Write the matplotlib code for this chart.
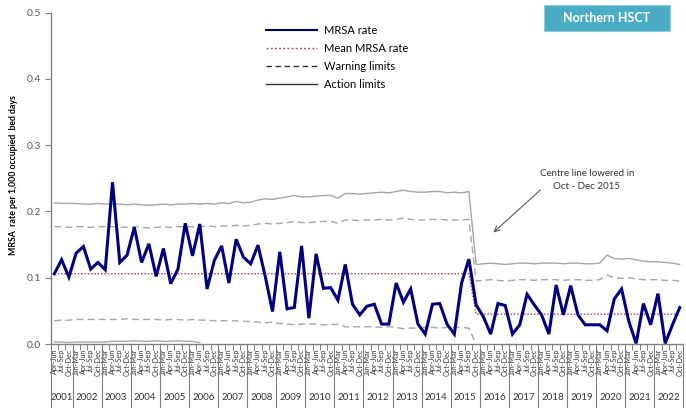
import numpy as np
import matplotlib
matplotlib.use("Agg")
import matplotlib.pyplot as plt
from matplotlib.lines import Line2D
from matplotlib.patches import Rectangle
import matplotlib.transforms as mtransforms

plt.rcParams['font.family'] = ['Lato', 'DejaVu Sans']

# ---------------- data ----------------
years = ["2001", "2002", "2003", "2004", "2005", "2006", "2007", "2008", "2009", "2010", "2011",
         "2012", "2013", "2014", "2015", "2016", "2017", "2018", "2019", "2020", "2021", "2022"]
quarters_first_year = ["Apr-Jun", "Jul-Sep", "Oct-Dec"]
quarters = ["Jan-Mar", "Apr-Jun", "Jul-Sep", "Oct-Dec"]

mrsa_rate = [0.106, 0.127, 0.101, 0.137, 0.147, 0.113, 0.123, 0.112, 0.244, 0.123,
             0.134, 0.176, 0.123, 0.151, 0.102, 0.144, 0.091, 0.113, 0.182, 0.133,
             0.181, 0.083, 0.126, 0.148, 0.092, 0.158, 0.131, 0.121, 0.149, 0.102,
             0.049, 0.139, 0.053, 0.055, 0.148, 0.039, 0.136, 0.084, 0.085, 0.066,
             0.120, 0.060, 0.044, 0.057, 0.060, 0.030, 0.030, 0.092, 0.063, 0.083,
             0.030, 0.015, 0.060, 0.061, 0.030, 0.015, 0.092, 0.128, 0.059, 0.041,
             0.015, 0.061, 0.058, 0.015, 0.029, 0.075, 0.059, 0.044, 0.015, 0.089,
             0.044, 0.088, 0.044, 0.029, 0.029, 0.029, 0.020, 0.068, 0.083, 0.034,
             0.001, 0.061, 0.029, 0.076, 0.001, 0.029, 0.055]

mean_before = 0.106
mean_after = 0.045
n_before = 58   # quarters up to Jul-Sep 2015
n_after = 29    # from Oct-Dec 2015
mean_rate = [mean_before] * n_before + [mean_after] * n_after

upper_action = [0.213, 0.212, 0.212, 0.212, 0.211, 0.211, 0.212, 0.211, 0.211, 0.211,
                0.210, 0.211, 0.210, 0.209, 0.210, 0.211, 0.210, 0.211, 0.211, 0.212,
                0.211, 0.212, 0.211, 0.213, 0.212, 0.215, 0.213, 0.214, 0.217, 0.219,
                0.218, 0.220, 0.222, 0.224, 0.222, 0.222, 0.223, 0.224, 0.224, 0.220,
                0.227, 0.227, 0.226, 0.227, 0.228, 0.229, 0.228, 0.230, 0.232, 0.230,
                0.229, 0.229, 0.230, 0.230, 0.228, 0.229, 0.228, 0.230,
                0.120, 0.121, 0.122, 0.121, 0.120, 0.121, 0.122, 0.122, 0.121, 0.122,
                0.122, 0.122, 0.121, 0.122, 0.122, 0.121, 0.121, 0.122, 0.134, 0.129,
                0.128, 0.129, 0.127, 0.125, 0.124, 0.124, 0.123, 0.122, 0.120]

upper_warning = [0.177, 0.177, 0.176, 0.177, 0.177, 0.176, 0.177, 0.177, 0.177, 0.176,
                 0.176, 0.177, 0.176, 0.175, 0.176, 0.177, 0.176, 0.177, 0.177, 0.177,
                 0.177, 0.178, 0.177, 0.178, 0.178, 0.179, 0.178, 0.179, 0.181, 0.182,
                 0.181, 0.182, 0.183, 0.185, 0.183, 0.183, 0.184, 0.185, 0.185, 0.182,
                 0.187, 0.187, 0.186, 0.187, 0.187, 0.188, 0.187, 0.188, 0.190, 0.188,
                 0.187, 0.187, 0.188, 0.188, 0.187, 0.187, 0.187, 0.188,
                 0.095, 0.096, 0.097, 0.096, 0.095, 0.096, 0.097, 0.097, 0.096, 0.097,
                 0.097, 0.097, 0.096, 0.097, 0.097, 0.096, 0.096, 0.097, 0.104, 0.100,
                 0.099, 0.100, 0.098, 0.097, 0.097, 0.097, 0.096, 0.096, 0.095]

lower_warning = [0.035, 0.036, 0.036, 0.037, 0.037, 0.037, 0.037, 0.037, 0.037, 0.037,
                 0.038, 0.037, 0.037, 0.037, 0.037, 0.036, 0.037, 0.037, 0.036, 0.037,
                 0.036, 0.036, 0.035, 0.035, 0.035, 0.035, 0.034, 0.034, 0.033, 0.032,
                 0.033, 0.031, 0.030, 0.029, 0.030, 0.030, 0.030, 0.029, 0.029, 0.030,
                 0.026, 0.026, 0.026, 0.026, 0.026, 0.025, 0.026, 0.025, 0.023, 0.024,
                 0.024, 0.025, 0.025, 0.024, 0.025, 0.025, 0.025, 0.024,
                 0.0] + [np.nan] * 28

lower_action = [0.003, 0.003, 0.002, 0.003, 0.003, 0.003, 0.003, 0.003, 0.004, 0.004,
                0.004, 0.005, 0.004, 0.004, 0.005, 0.004, 0.004, 0.005, 0.004, 0.004,
                0.002] + [np.nan] * 66

# quarter labels
qlabels = list(quarters_first_year) + quarters * (len(years) - 1)
year_sizes = [len(quarters_first_year)] + [len(quarters)] * (len(years) - 1)
x = np.arange(len(mrsa_rate))

# ---------------- figure ----------------
W, H = 686, 408
fig = plt.figure(figsize=(W / 100, H / 100), dpi=100)
ax_left, ax_right, ax_bottom, ax_top = 50.7, 683.4, 344, 12.5
ax = fig.add_axes([ax_left / W, (H - ax_bottom) / H, (ax_right - ax_left) / W, (ax_bottom - ax_top) / H])

grey = '#A6A6A6'
ax.plot(x, upper_action, color=grey, lw=1.0, zorder=2)
ax.plot(x, lower_action, color=grey, lw=1.0, zorder=2)
ax.plot(x, upper_warning, color=grey, lw=1.0, ls=(0, (5, 3)), zorder=2)
ax.plot(x, lower_warning, color=grey, lw=1.0, ls=(0, (5, 3)), zorder=2)
ax.plot(x, mean_rate, color='#C0504D', lw=1.0, ls=(0, (1.2, 1.2)), zorder=3)
ax.plot(x, mrsa_rate, color='#000080', lw=2.2, zorder=4, solid_joinstyle='miter')

ax.set_xlim(-0.5, len(x) - 0.5)
ax.set_ylim(0, 0.5)
ax.set_yticks([0.0, 0.1, 0.2, 0.3, 0.4, 0.5])
ax.set_yticklabels(['0.0', '0.1', '0.2', '0.3', '0.4', '0.5'])
ax.tick_params(axis='y', labelsize=7.5, labelcolor='#595959', color='#808080', length=4, width=0.8, pad=3)

ax.set_xticks(x)
ax.set_xticklabels(qlabels, rotation=90, fontsize=5.2, color='#333333', va='top', ha='center')
ax.tick_params(axis='x', length=0, pad=3)
ax.set_xticks(np.arange(len(x) + 1) - 0.5, minor=True)
ax.tick_params(axis='x', which='minor', length=4, width=0.7, color='#808080')

for s in ['top', 'right']:
    ax.spines[s].set_visible(False)
for s in ['left', 'bottom']:
    ax.spines[s].set_color('#808080')
    ax.spines[s].set_linewidth(1.0)

# year separators and labels
trans = mtransforms.blended_transform_factory(ax.transData, ax.transAxes)
bottom_ax = -(H - ax_bottom) / (ax_bottom - ax_top)
year_label_y = -(397 - ax_bottom) / (ax_bottom - ax_top)
start = 0
bounds = [-0.5]
for yr, n in zip(years, year_sizes):
    end = start + n
    ax.text((start + end - 1) / 2, year_label_y, yr, transform=trans, ha='center', va='center',
            fontsize=7, color='#333333')
    bounds.append(end - 0.5)
    start = end
for b in bounds:
    ax.plot([b, b], [0, bottom_ax], transform=trans, color='#808080', lw=0.8, clip_on=False)

# y label
fig.text(14 / W, 0.571, 'MRSA  rate per 1,000 occupied  bed days', rotation=90, ha='center', va='center',
         fontsize=6.3, fontweight='bold', color='#000000')

# legend
handles = [Line2D([], [], color='#000080', lw=1.5),
           Line2D([], [], color='#C0504D', lw=1.0, ls=(0, (1.5, 1.5))),
           Line2D([], [], color='#333333', lw=1.0, ls=(0, (4, 2.5))),
           Line2D([], [], color='#333333', lw=1.0)]
labels = ['MRSA rate', 'Mean MRSA rate', 'Warning limits', 'Action limits']
fig.legend(handles, labels, loc='upper left', bbox_to_anchor=(266 / W, (H - 25) / H),
           frameon=False, fontsize=8, handlelength=4.6, handletextpad=0.6,
           labelspacing=0.62, borderpad=0, borderaxespad=0)

# Northern HSCT box
fig.patches.append(Rectangle((544 / W, (H - 31) / H), (670 - 544) / W, (31 - 5.3) / H,
                             transform=fig.transFigure, facecolor='#4BACC6', edgecolor='#8FCBDB',
                             lw=0.8, zorder=5))
fig.text(607 / W, (H - 18.5) / H, 'Northern HSCT', ha='center', va='center', fontsize=9,
         fontweight='bold', color='white', zorder=6)

# annotation
def px_to_data(px, py):
    return ((px - 54.3) / 7.275, (ax_bottom - py) / (ax_bottom - ax_top) * 0.5)

ax.annotate('', xy=px_to_data(493.5, 232.5), xytext=px_to_data(540.5, 190),
            arrowprops=dict(arrowstyle='->', color='#595959', lw=0.8, shrinkA=0, shrinkB=0))
tx, ty = px_to_data(587, 180)
ax.text(tx, ty, 'Centre line lowered in\nOct - Dec 2015', ha='center', va='center', fontsize=7,
        color='#333333', linespacing=1.5)

fig.savefig('out.png', dpi=100)
